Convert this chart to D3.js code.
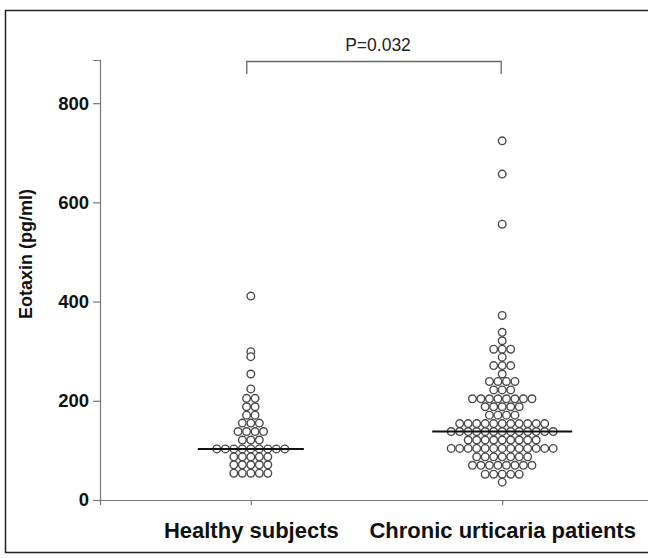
<!DOCTYPE html>
<html>
<head>
<meta charset="utf-8">
<script src="https://cdn.jsdelivr.net/npm/d3@7"></script>
<style>
  body { margin: 0; background: #fff; }
  svg { font-family: "Liberation Sans", Arial, sans-serif; }
</style>
</head>
<body>
<div id="chart"></div>
<script>
const categories = ["Healthy subjects", "Chronic urticaria patients"];

// values, one per dot (pg/ml)
const healthyValues = [
    411, 299, 289, 254, 224,
    205, 205, 188, 188, 171, 171,
    155, 155, 155,
    138, 138, 138, 138,
    121, 121, 121,
    103, 103, 103, 103, 103, 103, 103, 103, 103,
    87, 87, 87, 87, 87,
    71, 71, 71, 71, 71,
    54, 54, 54, 54, 54
];

const urticariaValues = [
    724, 657, 556, 372, 338, 321,
    304, 304, 304, 288,
    271, 271, 271, 254,
    239, 239, 239, 239,
    222, 222, 222,
    204, 204, 204, 204, 204, 204, 204, 204,
    188, 188, 188, 188, 188,
    171, 171, 171, 171,
    154, 154, 154, 154, 154, 154, 154, 154, 154, 154, 154,
    138, 138, 138, 138, 138, 138, 138, 138, 138, 138, 138, 138, 138,
    121, 121, 121, 121, 121, 121, 121, 121, 121,
    104, 104, 104, 104, 104, 104, 104, 104, 104, 104, 104, 104, 104,
    87, 87, 87, 87, 87, 87, 87,
    70, 70, 70, 70, 70, 70, 70, 70,
    52, 52, 52, 52, 52,
    36
];

const yTicks = [0, 200, 400, 600, 800];
const pLabel = "P=0.032";

function Chart() {
    const width = 648, height = 558;
    const dotR = 3.8, dotStep = 8.5;

    const svg = d3.select("#chart").append("svg")
        .attr("width", width)
        .attr("height", height);

    // outer frame
    svg.append("rect")
        .attr("x", 5.5).attr("y", 10.5)
        .attr("width", 660).attr("height", 542)
        .attr("fill", "none")
        .attr("stroke", "#222")
        .attr("stroke-width", 1.5);

    const yScale = d3.scaleLinear().domain([0, 887]).range([500, 60]);
    const xScale = d3.scalePoint().domain(categories).range([100, 653]).padding(0.6);

    const yAxis = svg.append("g")
        .attr("transform", "translate(100,0)")
        .call(d3.axisLeft(yScale).tickValues(yTicks).tickSizeOuter(0).tickSize(7).tickPadding(4));
    yAxis.select(".domain").attr("stroke", "#777").attr("stroke-width", 1.2);
    yAxis.selectAll(".tick line").attr("stroke", "#777").attr("stroke-width", 1.2);
    yAxis.selectAll("text")
        .attr("font-size", 18.5)
        .attr("font-weight", "bold")
        .attr("fill", "#111")
        .attr("font-family", "Liberation Sans, Arial, sans-serif");

    const xAxis = svg.append("g")
        .attr("transform", "translate(0,500)")
        .call(d3.axisBottom(xScale).tickSizeOuter(0).tickSize(5).tickPadding(17));
    xAxis.select(".domain").attr("stroke", "#777").attr("stroke-width", 1.2);
    xAxis.selectAll(".tick line").attr("stroke", "#777").attr("stroke-width", 1.2);
    xAxis.selectAll("text")
        .attr("font-size", 22)
        .attr("font-weight", "bold")
        .attr("fill", "#111")
        .attr("font-family", "Liberation Sans, Arial, sans-serif");

    svg.append("text")
        .attr("transform", "translate(32,254) rotate(-90)")
        .attr("text-anchor", "middle")
        .attr("font-size", 18)
        .attr("font-weight", "bold")
        .attr("fill", "#111")
        .text("Eotaxin (pg/ml)");

    // dots: equal values share a row, centred on the category
    const series = [healthyValues, urticariaValues];
    series.forEach((vals, k) => {
        const cx = xScale(categories[k]);
        const rows = d3.groups(vals, v => v);
        const dots = [];
        let maxHalf = 0;
        rows.forEach(([v, arr]) => {
            const n = arr.length;
            maxHalf = Math.max(maxHalf, (n - 1) / 2 * dotStep);
            arr.forEach((_, i) => dots.push({ x: cx + (i - (n - 1) / 2) * dotStep, v: v }));
        });

        svg.append("g")
            .selectAll("circle")
            .data(dots)
            .join("circle")
            .attr("cx", d => d.x)
            .attr("cy", d => yScale(d.v))
            .attr("r", dotR)
            .attr("fill", "#fff")
            .attr("stroke", "#4a4a4a")
            .attr("stroke-width", 1.4);

        const med = d3.median(vals);
        svg.append("line")
            .attr("x1", cx - maxHalf - 19)
            .attr("x2", cx + maxHalf + 19)
            .attr("y1", yScale(med))
            .attr("y2", yScale(med))
            .attr("stroke", "#111")
            .attr("stroke-width", 2);
    });

    // significance bracket
    const bx1 = xScale(categories[0]) - 4, bx2 = xScale(categories[1]) - 1;
    svg.append("path")
        .attr("d", `M${bx1},74V61.5H${bx2}V74`)
        .attr("fill", "none")
        .attr("stroke", "#666")
        .attr("stroke-width", 1.3);
    svg.append("text")
        .attr("x", 378)
        .attr("y", 51)
        .attr("text-anchor", "middle")
        .attr("font-size", 17.5)
        .attr("fill", "#222")
        .text(pLabel);

    return svg.node();
}

Chart();
</script>
</body>
</html>
